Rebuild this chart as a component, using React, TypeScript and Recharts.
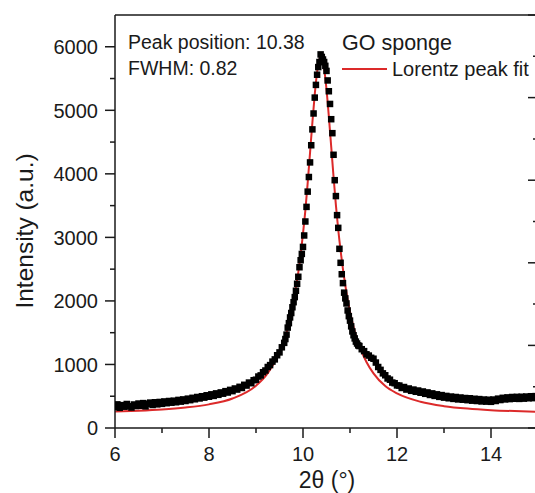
import React from 'react';
import { ComposedChart, Scatter, Line, XAxis, YAxis } from 'recharts';

// GO sponge XRD scan: [2θ (°), intensity (a.u.)]
const goSponge: [number, number][] = [
  [6.00, 330], [6.05, 372], [6.10, 318], [6.15, 360], [6.20, 335], [6.25, 378], [6.30, 342], [6.35, 322],
  [6.40, 370], [6.45, 345], [6.50, 385], [6.55, 350], [6.60, 392], [6.65, 340], [6.70, 380], [6.75, 400],
  [6.80, 362], [6.85, 405], [6.90, 372], [6.95, 410], [7.00, 380], [7.05, 418], [7.10, 390], [7.15, 425],
  [7.20, 398], [7.25, 430], [7.30, 405], [7.35, 442], [7.40, 415], [7.45, 450], [7.50, 425], [7.55, 462],
  [7.60, 438], [7.65, 475], [7.70, 452], [7.75, 488], [7.80, 465], [7.85, 500], [7.90, 478], [7.95, 515],
  [8.00, 492], [8.05, 530], [8.10, 505], [8.15, 545], [8.20, 522], [8.25, 560], [8.30, 540], [8.35, 580],
  [8.40, 558], [8.45, 600], [8.50, 580], [8.55, 622], [8.60, 605], [8.65, 648], [8.70, 630], [8.75, 680],
  [8.80, 668], [8.85, 715], [8.90, 705], [8.95, 752], [9.00, 760], [9.05, 810], [9.10, 828], [9.15, 878],
  [9.20, 905], [9.25, 960], [9.30, 990], [9.35, 1045], [9.40, 1080], [9.45, 1145], [9.50, 1190], [9.55, 1270],
  [9.600, 1340], [9.625, 1400], [9.650, 1470], [9.675, 1580], [9.700, 1650], [9.725, 1740], [9.750, 1810],
  [9.775, 1900], [9.800, 1980], [9.825, 2060], [9.850, 2160], [9.875, 2270], [9.900, 2380], [9.925, 2530],
  [9.950, 2640], [9.975, 2740], [10.000, 2850], [10.025, 3030], [10.050, 3250], [10.075, 3480], [10.100, 3720],
  [10.125, 3950], [10.150, 4180], [10.175, 4450], [10.200, 4700], [10.225, 4950], [10.250, 5200], [10.275, 5400],
  [10.300, 5560], [10.325, 5680], [10.350, 5760], [10.375, 5880], [10.400, 5840], [10.425, 5800], [10.450, 5760],
  [10.475, 5700], [10.500, 5620], [10.525, 5470], [10.550, 5300], [10.575, 5100], [10.600, 4860], [10.625, 4640],
  [10.650, 4300], [10.675, 3900], [10.700, 3650], [10.725, 3350], [10.750, 3150], [10.775, 2820], [10.800, 2600],
  [10.825, 2420], [10.850, 2280], [10.875, 2130], [10.900, 2040], [10.925, 1960], [10.950, 1850], [10.975, 1760],
  [11.000, 1690], [11.025, 1600], [11.050, 1520], [11.075, 1460], [11.100, 1410], [11.125, 1360], [11.150, 1330],
  [11.175, 1300],
  [11.20, 1290], [11.25, 1240], [11.30, 1210], [11.35, 1160], [11.40, 1140], [11.45, 1105], [11.50, 1090], [11.55, 1030],
  [11.60, 960], [11.65, 915], [11.70, 860], [11.75, 830], [11.80, 780], [11.85, 760], [11.90, 715], [11.95, 705],
  [12.00, 670], [12.05, 668], [12.10, 630], [12.15, 645], [12.20, 605], [12.25, 622], [12.30, 585], [12.35, 605],
  [12.40, 570], [12.45, 590], [12.50, 555], [12.55, 575], [12.60, 538], [12.65, 560], [12.70, 520], [12.75, 545],
  [12.80, 505], [12.85, 530], [12.90, 490], [12.95, 518], [13.00, 478], [13.05, 505], [13.10, 468], [13.15, 495],
  [13.20, 458], [13.25, 488], [13.30, 450], [13.35, 480], [13.40, 445], [13.45, 472], [13.50, 438], [13.55, 468],
  [13.60, 430], [13.65, 460], [13.70, 425], [13.75, 455], [13.80, 418], [13.85, 448], [13.90, 415], [13.95, 445],
  [14.00, 412], [14.05, 448], [14.10, 425], [14.15, 462], [14.20, 440], [14.25, 475], [14.30, 450], [14.35, 482],
  [14.40, 455], [14.45, 488], [14.50, 460], [14.55, 490], [14.60, 458], [14.65, 492], [14.70, 462], [14.75, 495],
  [14.80, 468], [14.85, 500], [14.90, 470], [14.95, 502], [15.00, 475],
];

// Lorentz peak fit curve: [2θ (°), intensity]
const lorentzFit: [number, number][] = [
  [6.0, 259], [6.5, 272], [7.0, 291], [7.5, 322], [8.0, 372], [8.5, 465], [9.0, 666], [9.25, 864],
  [9.4, 1047], [9.5, 1212], [9.65, 1500], [9.75, 1790], [9.8, 1990], [9.85, 2220], [9.9, 2450], [9.95, 2730],
  [10.0, 3060], [10.05, 3424], [10.1, 3862], [10.15, 4334], [10.2, 4811], [10.25, 5251], [10.3, 5602],
  [10.35, 5805], [10.38, 5840], [10.42, 5779], [10.45, 5656], [10.5, 5330], [10.55, 4903], [10.6, 4430],
  [10.65, 3954], [10.7, 3508], [10.75, 3120], [10.8, 2790], [10.85, 2500], [10.9, 2250], [10.95, 2020],
  [11.0, 1830], [11.1, 1520], [11.25, 1200], [11.35, 1040], [11.5, 860], [11.75, 660], [12.0, 545],
  [12.5, 413], [13.0, 344], [13.5, 305], [14.0, 281], [14.5, 266], [15.0, 256],
];

const bottomTicks = [6, 7, 8, 9, 10, 11, 12, 13, 14, 15];
const leftTicks = [0, 500, 1000, 1500, 2000, 2500, 3000, 3500, 4000, 4500, 5000, 5500, 6000];
const frameTicks = [0, 1, 2, 3, 4, 5, 6, 7, 8, 9, 10];
const annotationLines = ['Peak position: 10.38', 'FWHM: 0.82'];
const seriesLabels = ['GO sponge', 'Lorentz peak fit'];
const xTitle = '2θ (°)';
const yTitle = 'Intensity (a.u.)';

const scatterData = goSponge.map(([x, y]) => ({ x, y }));
const fitData = lorentzFit.map(([x, y]) => ({ x, y }));

const FONT = "'Liberation Sans', Arial, Helvetica, sans-serif";
const INK = '#1a1a1a';
const RED = '#dc2a2a';
const SW = 1.5;

const BottomTick = (props: any) => {
  const { x, y, payload } = props;
  const v = payload.value;
  const major = v % 2 === 0;
  return (
    <g>
      <line x1={x} x2={x} y1={y} y2={y + (major ? 10 : 5)} stroke={INK} strokeWidth={SW} />
      {major && (
        <text x={x} y={y + 33} textAnchor="middle" fontSize={20} fontFamily={FONT} fill={INK}>
          {v}
        </text>
      )}
    </g>
  );
};

const LeftTick = (props: any) => {
  const { x, y, payload } = props;
  const v = payload.value;
  const major = v % 1000 === 0;
  return (
    <g>
      <line x1={x - (major ? 10 : 5)} x2={x} y1={y} y2={y} stroke={INK} strokeWidth={SW} />
      {major && (
        <text x={x - 17} y={y} dy="0.36em" textAnchor="end" fontSize={20} fontFamily={FONT} fill={INK}>
          {v}
        </text>
      )}
    </g>
  );
};

const TopTick = (props: any) => {
  const { x, y, payload } = props;
  const major = payload.value % 2 === 0;
  return <line x1={x} x2={x} y1={y} y2={y + (major ? 10 : 5)} stroke={INK} strokeWidth={SW} />;
};

const RightTick = (props: any) => {
  const { x, y, payload } = props;
  const major = payload.value % 2 === 0;
  return <line x1={x - (major ? 10 : 5)} x2={x} y1={y} y2={y} stroke={INK} strokeWidth={SW} />;
};

const SquareDot = (p: any) => (
  <rect x={p.cx - 3.25} y={p.cy - 3.25} width={6.5} height={6.5} fill="#000" />
);

export default function App() {
  return (
    <div
      style={{
        position: 'absolute',
        left: 0,
        top: 0,
        width: 535,
        height: 493,
        overflow: 'hidden',
        background: '#fff',
      }}
    >
      <div style={{ position: 'relative', width: 545, height: 493 }}>
        <ComposedChart width={545} height={493} margin={{ top: 14, right: 6, bottom: 35, left: 55 }}>
          <XAxis
            xAxisId="bottom"
            type="number"
            dataKey="x"
            domain={[6, 15]}
            ticks={bottomTicks}
            interval={0}
            height={30}
            tickSize={0}
            tickMargin={0}
            tickLine={false}
            tick={<BottomTick />}
            axisLine={{ stroke: INK, strokeWidth: SW }}
            allowDataOverflow
          />
          <XAxis
            xAxisId="top"
            orientation="top"
            type="number"
            domain={[0, 10]}
            ticks={frameTicks}
            interval={0}
            height={1}
            tickSize={0}
            tickMargin={0}
            tickLine={false}
            tick={<TopTick />}
            axisLine={{ stroke: INK, strokeWidth: SW }}
            allowDataOverflow
          />
          <YAxis
            yAxisId="left"
            type="number"
            domain={[0, 6500]}
            ticks={leftTicks}
            interval={0}
            width={60}
            tickSize={0}
            tickMargin={0}
            tickLine={false}
            tick={<LeftTick />}
            axisLine={{ stroke: INK, strokeWidth: SW }}
            allowDataOverflow
          />
          <YAxis
            yAxisId="right"
            orientation="right"
            type="number"
            domain={[0, 10]}
            ticks={frameTicks}
            interval={0}
            width={1}
            tickSize={0}
            tickMargin={0}
            tickLine={false}
            tick={<RightTick />}
            axisLine={{ stroke: INK, strokeWidth: SW }}
            allowDataOverflow
          />
          <Scatter
            xAxisId="bottom"
            yAxisId="left"
            data={scatterData}
            dataKey="y"
            shape={SquareDot}
            isAnimationActive={false}
          />
          <Line
            xAxisId="bottom"
            yAxisId="left"
            data={fitData}
            dataKey="y"
            type="monotone"
            dot={false}
            activeDot={false}
            stroke={RED}
            strokeWidth={2}
            isAnimationActive={false}
          />
        </ComposedChart>
        <svg
          width={545}
          height={493}
          style={{ position: 'absolute', left: 0, top: 0, pointerEvents: 'none' }}
        >
          <g fontFamily={FONT} fill={INK}>
            <text x={128} y={48.5} fontSize={19.5}>{annotationLines[0]}</text>
            <text x={128} y={75} fontSize={19.5}>{annotationLines[1]}</text>
            <text x={342} y={50} fontSize={21.5}>{seriesLabels[0]}</text>
            <line x1={342} x2={387} y1={69} y2={69} stroke={RED} strokeWidth={2} />
            <text x={392} y={76} fontSize={20}>{seriesLabels[1]}</text>
            <text x={327} y={487.5} fontSize={23} textAnchor="middle">{xTitle}</text>
            <text
              x={33}
              y={231}
              fontSize={24.5}
              textAnchor="middle"
              transform="rotate(-90 33 231)"
            >
              {yTitle}
            </text>
          </g>
        </svg>
      </div>
    </div>
  );
}
